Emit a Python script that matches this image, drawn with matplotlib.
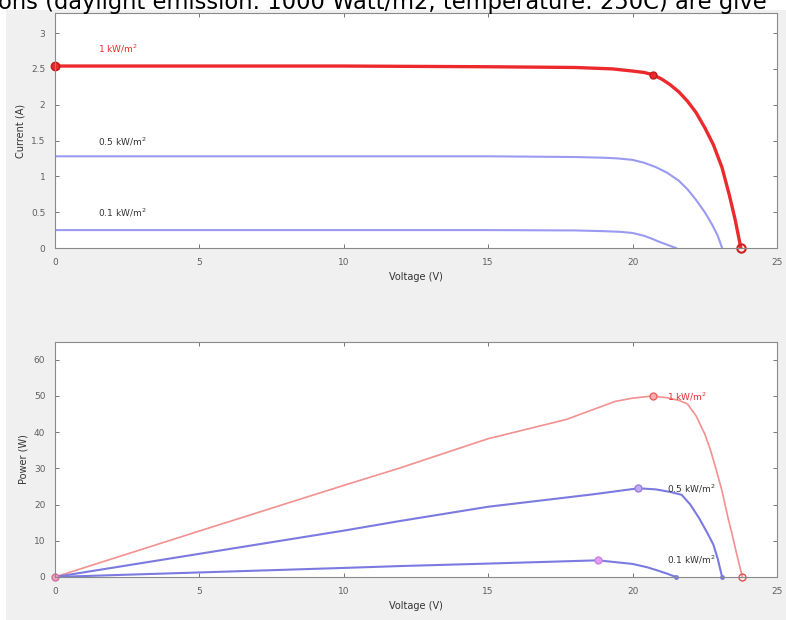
import matplotlib
matplotlib.use('Agg')
import matplotlib.pyplot as plt
from matplotlib.patches import Rectangle

# I-V curves
v_1k = [0, 5, 10, 15, 18, 19.3, 20, 20.4, 20.7, 21.0, 21.3, 21.6, 21.9, 22.2, 22.5,
        22.8, 23.1, 23.35, 23.55, 23.75]
i_1k = [2.54, 2.54, 2.54, 2.53, 2.52, 2.50, 2.47, 2.45, 2.42, 2.36, 2.28, 2.18, 2.05,
        1.89, 1.68, 1.44, 1.12, 0.74, 0.40, 0]
v_05 = [0, 5, 10, 15, 18, 19, 19.5, 20, 20.4, 20.8, 21.2, 21.6, 21.9, 22.2, 22.5,
        22.75, 22.95, 23.1]
i_05 = [1.28, 1.28, 1.28, 1.28, 1.27, 1.26, 1.25, 1.23, 1.19, 1.13, 1.05, 0.94, 0.82,
        0.67, 0.50, 0.33, 0.17, 0]
v_01 = [0, 5, 10, 15, 18, 19, 19.6, 20, 20.4, 20.7, 20.9, 21.2, 21.5]
i_01 = [0.25, 0.25, 0.25, 0.25, 0.245, 0.235, 0.225, 0.21, 0.17, 0.125, 0.09, 0.045, 0]

# P-V curves
pv_1k = [0, 5, 10, 11.9, 15, 17.7, 19.4, 20, 20.7, 21.2, 21.6, 21.9, 22.2, 22.5,
         22.7, 22.9, 23.1, 23.3, 23.45, 23.6, 23.8]
p_1k = [0, 12.7, 25.3, 30.0, 38.2, 43.5, 48.5, 49.4, 50, 49.5, 48.8, 47.8, 44.5, 39.5,
        35, 29.5, 23.7, 16.5, 11.7, 6.5, 0]
pv_05 = [0, 5, 10, 11.9, 15, 18.6, 20.2, 20.8, 21.3, 21.7, 22.0, 22.3, 22.6, 22.8,
         22.95, 23.1]
p_05 = [0, 6.4, 12.8, 15.4, 19.4, 22.8, 24.5, 24.2, 23.5, 22.7, 20.0, 16.3, 12.0, 8.9,
        5.0, 0]
pv_01 = [0, 5, 10, 11.9, 15, 18.8, 20, 20.5, 20.9, 21.2, 21.5]
p_01 = [0, 1.25, 2.5, 3.0, 3.7, 4.6, 3.6, 2.7, 1.7, 0.9, 0]

# maximum power points
mpp_v = [20.7, 20.2, 18.8]
mpp_i = 2.42
mpp_p = [50, 24.5, 4.6]

labels = ['1 kW/m$^2$', '0.5 kW/m$^2$', '0.1 kW/m$^2$']
xticks = [0, 5, 10, 15, 20, 25]
i_ticks = [0, 0.5, 1, 1.5, 2, 2.5, 3]
i_ticklabels = ['0', '0.5', '1', '1.5', '2', '2.5', '3']
p_ticks = [0, 10, 20, 30, 40, 50, 60]

red = '#ec2a2e'
lightred = '#f39090'
blue = '#9a9af2'
blue2 = '#7a7ae0'
tickcol = '#606060'

fig = plt.figure(figsize=(7.86, 6.2), dpi=100, facecolor='#f0f0f0')
# white page strips around the screenshot
fig.add_artist(Rectangle((0, 1 - 10 / 620), 1, 10 / 620, transform=fig.transFigure,
                         facecolor='white', edgecolor='none', zorder=0))
fig.add_artist(Rectangle((0, 0), 6 / 786, 1, transform=fig.transFigure,
                         facecolor='white', edgecolor='none', zorder=0))
fig.text(-2 / 786, 1 - 9 / 620, 'ons (daylight emission: 1000 Watt/m2, temperature: 250C) are give',
         fontsize=16.3, va='baseline', ha='left', color='black', zorder=5)


def style(ax):
    ax.tick_params(direction='in', top=True, right=True, labelsize=6.5,
                   colors=tickcol, length=3, width=0.6, pad=7)
    for s in ax.spines.values():
        s.set_color('#8a8a8a')
        s.set_linewidth(0.8)
    ax.set_xlim(0, 25)
    ax.set_xticks(xticks)
    ax.set_facecolor('white')


# top: current
ax1 = fig.add_axes([0.07, 0.6, 0.9185, 0.379])
ax1.plot(v_05, i_05, color=blue, lw=1.5)
ax1.plot(v_01, i_01, color=blue, lw=1.5)
ax1.plot(v_1k, i_1k, color=red, lw=2.4)
ax1.plot([v_1k[0]], [i_1k[0]], 'o', color=red, ms=6, mec='#c01818', clip_on=False)
ax1.plot([mpp_v[0]], [mpp_i], 'o', color=red, ms=5, mec='#c01818', clip_on=False)
ax1.plot([v_1k[-1]], [i_1k[-1]], 'o', mfc='none', mec='#d02020', ms=6, mew=1.5, clip_on=False)
ax1.text(1.5, 2.78, labels[0], color=red, fontsize=6.5, va='center')
ax1.text(1.5, 1.48, labels[1], color='#333333', fontsize=6.5, va='center')
ax1.text(1.5, 0.49, labels[2], color='#333333', fontsize=6.5, va='center')
style(ax1)
ax1.set_ylim(0, 3.28)
ax1.set_yticks(i_ticks)
ax1.set_yticklabels(i_ticklabels)
ax1.set_xlabel('Voltage (V)', fontsize=7, color='#333333', labelpad=4)
ax1.set_ylabel('Current (A)', fontsize=7, color='#333333', labelpad=4)

# bottom: power
ax2 = fig.add_axes([0.07, 0.0694, 0.9185, 0.3795])
ax2.plot(pv_1k, p_1k, color=lightred, lw=1.2)
ax2.plot(pv_05, p_05, color=blue2, lw=1.5)
ax2.plot(pv_01, p_01, color=blue2, lw=1.5)
ax2.plot([mpp_v[0]], [mpp_p[0]], 'o', mfc='#f6b0b0', mec='#ec6060', ms=5, clip_on=False)
ax2.plot([mpp_v[1]], [mpp_p[1]], 'o', mfc='#c0b0f0', mec='#9a7ae8', ms=5, clip_on=False)
ax2.plot([mpp_v[2]], [mpp_p[2]], 'o', mfc='#e0a0f0', mec='#d080e8', ms=5, clip_on=False)
ax2.plot([pv_1k[-1]], [0], 'o', mfc='none', mec='#e05050', ms=5, clip_on=False)
ax2.plot([pv_05[-1], pv_01[-1]], [0, 0], '.', color=blue2, ms=5, clip_on=False)
ax2.plot([0], [0], 'o', mfc='#f0a0c0', mec='#d070a0', ms=5, clip_on=False)
ax2.text(21.2, 49.7, labels[0], color=red, fontsize=6.5, va='center')
ax2.text(21.2, 24.3, labels[1], color='#333333', fontsize=6.5, va='center')
ax2.text(21.2, 4.8, labels[2], color='#333333', fontsize=6.5, va='center')
style(ax2)
ax2.set_ylim(0, 65)
ax2.set_yticks(p_ticks)
ax2.set_xlabel('Voltage (V)', fontsize=7, color='#333333', labelpad=4)
ax2.set_ylabel('Power (W)', fontsize=7, color='#333333', labelpad=4)

fig.savefig('out.png', dpi=100, facecolor=fig.get_facecolor())
